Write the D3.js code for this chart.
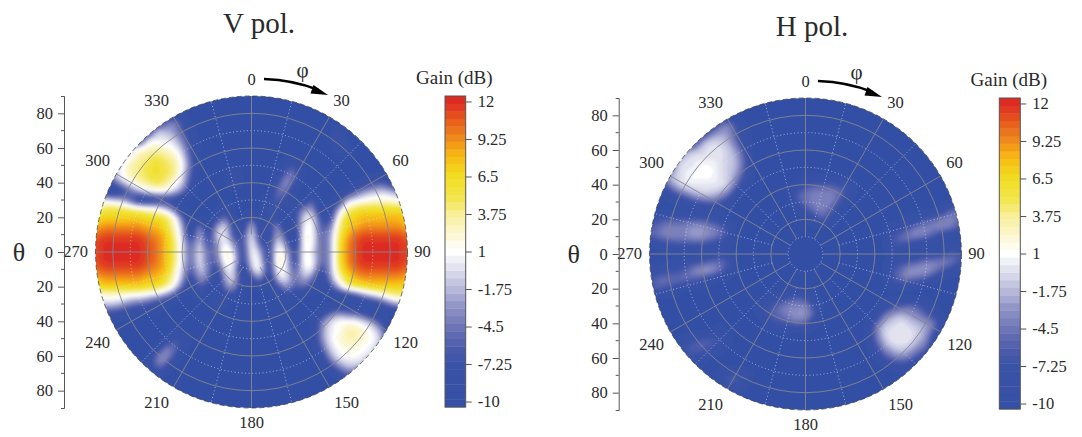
<!DOCTYPE html>
<html><head><meta charset="utf-8">
<script src="https://cdn.jsdelivr.net/npm/d3@7"></script>
<style>
html,body{margin:0;padding:0;background:#fff;overflow:hidden}
text{font-family:"Liberation Serif","Times New Roman",serif;fill:#2a2a2a}
</style></head><body>
<svg id="c" width="1082" height="437"></svg>
<script>
const _=-10, e=Array(37).fill(_);
// Gain (dB), rows theta-y +90..-90, columns theta-x -90..+90, 5 degree step
const gainV=[
e,e,e,
[_,_,_,_,_,_,_,_,-6,-4,-7, _,_,_,_,_,_,_,_,_,_,_,_,_,_,_,_, _,_,_,_,_,_,_,_,_,_],
[_,_,_,_,_,_,_,-2,-2,-3,-6, -9,_,_,_,_,_,_,_,_,_,_,_,_,_,_,_, _,-9,_,_,_,_,_,_,_,_],
[_,_,_,_,_,_,-1,0,0,-1,-4, -8,_,_,_,_,_,_,_,_,_,_,_,_,_,_,_, _,-8,_,_,_,_,_,_,_,_],
[_,_,_,_,-2,1,2,3,2,1,-2, -7,_,_,_,_,_,_,_,_,_,_,_,_,_,_,_, _,-8,-9,_,_,_,_,_,_,_],
[_,_,_,-2,1,3,4,5,4,3,0, -6,_,_,_,_,_,_,_,_,_,_,_,_,_,_,_, _,_,_,_,_,_,_,_,_,_],
[_,_,-4,0,3,4,5,6,5,4,1, -5,_,_,_,_,_,_,_,_,_,_,-8,-7,_,_,_, _,_,_,_,_,_,_,_,_,_],
[_,_,-2,1,3,4,5,6,5,4,0, -6,_,_,_,_,-8,_,_,_,_,_,-5,-5,_,_,_, _,_,_,_,_,_,_,_,_,_],
[_,_,-6,-2,1,3,4,5,4,2,-1, -7,_,_,_,_,-8,_,_,_,_,-7,-3,-7,_,_,_, _,_,_,_,-9,-7,-6,-8,_,_],
[_,-9,_,-8,-5,-2,0,1,1,-1,-4, -9,_,_,_,_,_,_,_,_,_,-5,-5,_,_,_,_, _,_,-9,-6,-3,-2,-1,-2,-4,_],
[-2,0,-1,-2,-5,-9,-9,-8,-8,-8,_, _,_,_,_,_,_,_,_,_,-8,-6,-8,_,_,-6,_, _,-9,-2,0,1,2,2,2,1,0],
[3,5,5,5,4,3,2,1,-1,-5,_, _,_,_,_,-8,_,_,_,_,-7,-8,_,-8,-4,-3,_, -9,-3,3,5,6,6,6,6,6,6],
[6,7,7,7,7,7,6,6,5,2,-5, _,_,_,-8,-5,_,_,-7,_,-8,-8,_,-8,-1,0,-7, -8,1,6,7,8,8,8,8,8,7],
[8,9,9,9,9,9,8,8,6,3,-2, _,-4,_,-3,-1,-8,_,-1,_,-8,-4,_,-8,0,1,-6, -5,3,7,8,9,9,9,9,9,8],
[10,11,11,11,11,11,10,9,8,4,-1, -9,-2,-8,-1,0,-7,-7,0,-8,-9,-2,-7,_,1,1,-5, -3,4,8,10,11,11,11,11,11,10],
[11,12,12,12,12,12,11,10,8,5,0, -6,-1,-7,-3,1,-4,-7,1,-6,-8,0,-4,_,1,1,-5, -3,5,9,11,12,12,12,12,12,11],
[11,12,12,12,12,12,11,10,8,5,0, -5,0,-5,-4,3,-1,-8,1,-2,-8,2,-1,-8,1,0,-5, -3,5,9,11,12,12,12,12,12,11],
[11,12,12,12,12,12,11,10,8,5,0, -5,0,-5,-5,2,0,-8,0,0,-9,3,0,-8,1,1,-5, -3,5,9,11,12,12,12,12,12,11],
[10,11,11,11,11,11,10,9,8,4,-1, -6,-1,-4,-8,0,-1,_,-2,1,-8,1,0,-6,0,0,-7, -3,4,8,10,11,11,11,11,11,10],
[8,9,9,9,9,9,8,8,6,3,-2, -8,-3,-5,_,-2,-1,-9,-7,-3,_,-1,0,-5,-2,-4,_, -4,2,6,8,9,9,9,9,9,8],
[6,7,7,7,7,7,6,6,4,1,-5, _,-6,-8,_,-4,-3,_,_,-9,_,-7,-3,-6,-5,-8,_, -7,-2,3,5,6,7,7,7,7,7],
[1,2,2,2,1,1,0,-1,-3,-6,_, _,-9,_,_,-8,-8,_,_,_,_,-9,-8,-9,_,_,_, _,-9,-8,-6,-3,-1,1,3,4,4],
[-2,-1,-1,-2,-4,-5,-6,-8,-9,_,_, _,_,_,-8,_,_,_,_,_,_,_,_,_,_,_,_, _,_,_,_,_,-9,-7,-4,-2,-2],
[_,-7,-7,-8,-9,_,_,_,_,_,_, _,_,_,_,_,_,_,_,_,_,_,_,_,_,_,-9, -6,-4,-5,-6,-8,_,_,_,_,_],
[_,_,_,_,_,_,_,_,_,_,_, _,_,_,_,_,_,_,_,_,_,_,_,_,_,_,-5, -1,1,1,1,-1,-3,-8,_,_,_],
[_,_,_,_,_,_,_,_,_,_,_, _,_,_,_,_,_,_,_,_,_,_,_,_,_,_,-4, 0,1,3,3,2,0,-3,_,_,_],
[_,_,_,_,_,_,_,_,_,-7,-8, _,_,_,_,_,_,_,_,_,_,_,_,_,_,_,-4, 0,2,3,3,2,1,-2,_,_,_],
[_,_,_,_,_,_,_,_,-5,-5,-8, _,_,_,_,_,_,_,_,_,_,_,_,_,_,_,-6, -1,1,2,2,1,0,-3,_,_,_],
[_,_,_,_,_,_,_,-5,-3,-6,_, _,_,_,_,_,_,_,_,_,_,_,_,_,_,_,-9, -3,0,1,1,0,-1,_,_,_,_],
[_,_,_,_,_,_,_,-5,-5,_,_, _,_,_,_,_,_,_,_,_,_,_,_,_,_,_,_, -7,-3,-1,-1,-2,_,_,_,_,_],
[_,_,_,_,_,_,_,-8,_,_,_, _,_,_,_,_,_,_,_,_,_,_,_,_,_,_,_, _,-8,-5,-5,_,_,_,_,_,_],
e,e,e,e
];
const gainH=[
e,e,e,
[_,_,_,_,_,_,_,_,-6,-4,-7, _,_,_,_,_,_,_,_,_,_,_,_,_,_,_,_, _,_,_,_,_,_,_,_,_,_],
[_,_,_,_,_,_,_,-5,-3,-3,-6, -9,_,_,_,_,_,_,_,_,_,_,_,_,_,_,_, _,_,_,_,_,_,_,_,_,_],
[_,_,_,_,_,_,-3,-1,-1,-2,-5, -9,_,_,_,_,_,_,_,_,_,_,_,_,_,_,_, _,_,_,_,_,_,_,_,_,_],
[_,_,_,_,-4,-2,-1,0,0,-1,-3, -7,_,_,_,_,_,_,_,_,_,_,_,_,_,_,_, _,_,_,_,_,_,_,_,_,_],
[_,_,_,-3,-1,0,0,0,0,-1,-2, -6,_,_,_,_,_,_,_,_,_,_,_,_,_,_,_, _,_,_,_,_,_,_,_,_,_],
[_,_,_,-2,0,0,1,1,0,-1,-2, -6,_,_,_,_,_,_,_,_,_,_,_,_,_,_,_, _,_,_,_,_,_,_,_,_,_],
[_,_,-3,-1,0,1,1,1,0,-1,-3, -7,_,_,_,_,_,_,_,_,_,_,_,_,_,_,_, _,_,_,_,_,_,_,_,_,_],
[_,_,-5,-2,0,0,0,0,0,-1,-5, -9,_,_,_,_,_,_,-7,-6,-6,-6,-7,-8,_,_,_, _,_,_,_,_,_,_,_,_,_],
[_,_,-9,-6,-4,-2,-1,-1,-2,-4,-8, _,_,_,_,_,_,-6,-5,-4,-4,-4,-5,-8,_,_,_, _,_,_,_,_,_,_,_,_,_],
[_,_,_,_,-9,-7,-6,-5,-6,-8,_, _,_,_,_,_,_,-7,-5,-4,-4,-4,-7,_,_,_,_, _,_,_,_,_,_,_,_,_,-8],
[_,_,_,_,_,_,_,_,_,_,_, _,_,_,_,_,_,_,-7,-5,-4,-6,-9,_,_,_,_, _,_,_,_,_,_,_,-7,-5,-5],
[-8,-7,-6,-6,-6,-6,-6,-7,-8,_,_, _,_,_,_,_,_,_,_,-8,-6,-8,_,_,_,_,_, _,_,_,-9,-8,-6,-5,-4,-4,-5],
[-6,-5,-4,-4,-4,-3,-3,-4,-5,-7,_, _,_,_,_,_,_,_,_,_,_,_,_,_,_,_,_, _,-9,-8,-6,-4,-4,-4,-4,-5,-7],
[-6,-5,-4,-4,-4,-3,-3,-4,-5,-7,_, _,_,_,_,_,_,_,_,_,_,_,_,_,_,_,_, _,-7,-5,-4,-4,-5,-7,-9,_,_],
[_,-9,-8,-7,-7,-7,-7,-8,-9,_,_, _,_,_,_,_,_,_,_,_,_,_,_,_,_,_,_, _,-7,-7,-8,_,_,_,_,-9,-9],
[_,_,_,_,_,_,_,-9,-8,-9,_, _,_,_,_,_,_,_,_,_,_,_,_,_,_,_,_, _,_,_,_,-9,-8,-8,-7,-6,-7],
[_,_,_,-9,-8,-7,-6,-5,-5,-6,_, _,_,_,_,_,_,_,_,_,_,_,_,_,_,_,_, _,-8,-7,-6,-5,-4,-4,-4,-5,-7],
[-8,-8,-7,-7,-6,-4,-3,-3,-5,-8,_, _,_,_,_,_,_,_,_,_,_,_,_,_,_,_,_, _,-7,-5,-3,-3,-3,-5,-7,-9,_],
[-7,-5,-5,-5,-5,-6,-7,-9,_,_,_, _,_,_,_,_,_,_,_,_,_,_,_,_,_,_,_, _,-7,-5,-5,-6,-7,-9,_,_,_],
[-7,-6,-7,-8,_,_,_,_,_,_,_, _,_,_,_,_,_,_,_,_,_,_,_,_,_,_,_, _,_,_,_,_,_,_,_,_,_],
[_,_,_,_,_,_,_,_,_,_,_, _,_,_,-9,-8,-7,-6,-7,-9,_,_,_,_,_,_,_, _,_,_,_,_,_,_,_,_,_],
[_,_,_,_,_,_,_,_,_,_,_, _,_,-8,-7,-5,-4,-4,-4,-7,_,_,_,_,_,_,_, -9,-7,-6,-5,-6,-8,_,_,_,_],
[_,_,_,_,_,_,_,_,_,_,_, _,_,-9,-6,-5,-4,-3,-3,-6,_,_,_,_,_,_,_, -5,-3,-2,-3,-4,-6,-8,_,_,_],
[_,_,_,_,_,_,_,_,_,_,_, _,_,_,-8,-7,-6,-5,-6,-9,_,_,_,_,_,_,-6, -2,-1,0,-1,-2,-3,-5,_,_,_],
[_,_,_,_,_,_,_,_,-8,_,_, _,_,_,_,_,_,_,_,_,_,_,_,_,_,_,-5, -1,0,0,0,-1,-3,-7,_,_,_],
[_,_,_,_,-9,-7,-6,-6,-7,-9,_, _,_,_,_,_,_,_,_,_,_,_,_,_,_,_,-6, -2,0,0,0,-2,-4,_,_,_,_],
[_,_,_,_,-7,-6,-6,-7,-9,_,_, _,_,_,_,_,_,_,_,_,_,_,_,_,_,_,-8, -4,-2,-1,-2,-4,-6,_,_,_,_],
[_,_,_,-9,-8,-8,-9,_,_,_,_, _,_,_,_,_,_,_,_,_,_,_,_,_,_,_,_, -7,-5,-4,-5,-7,_,_,_,_,_],
[_,_,_,_,_,_,_,_,_,_,_, _,_,_,_,_,_,_,_,_,_,_,_,_,_,_,_, _,-9,-8,-9,_,_,_,_,_,_],
[_,_,_,_,_,_,_,_,-9,-7,-7, -8,_,_,_,_,_,_,_,_,_,_,_,_,_,_,_, _,_,_,_,_,_,_,_,_,_],
[_,_,_,_,_,_,_,_,_,-7,-7, -9,_,_,_,_,_,_,_,_,_,_,_,_,_,_,_, _,_,_,_,_,_,_,_,_,_],
e,e,e
];
const thetaTicks=[80,60,40,20,0,-20,-40,-60,-80];
const thetaMinor=[70,50,30,10,-10,-30,-50,-70];
const solidRings=[20,40,60,80], dottedRings=[10,30,50,70];
const solidSpokes=d3.range(0,360,30), dottedSpokes=d3.range(15,360,30);
const phiLabels=[0,30,60,90,120,150,180,210,240,270,300,330];
const gainTicks=[12,9.25,6.5,3.75,1,-1.75,-4.5,-7.25,-10];
const colorStops=[-10.4,-7.25,-6,-4.5,-3,-1.75,0,1,2.5,3.75,5,6.5,8,9.25,10.5,12,12.4];
const colorHex=["#3350a5","#3b52a6","#4c5cac","#6f76b7","#9094c6","#b7b9da","#e6e6f2","#ffffff","#fbf6cc","#f8ef9a","#f3e54c","#f0dd20","#f9bb14","#ef8c1c","#e8601f","#dd2c20","#dd2a20"];
const gainDomain=[-10.4,12.4], nBands=41;

const svg=d3.select("#c");
const color=d3.scaleLinear().domain(colorStops).range(colorHex);
const bandW=(gainDomain[1]-gainDomain[0])/nBands;
const bands=d3.range(nBands).map(i=>gainDomain[0]+i*bandW);

const flt=svg.append("defs");
flt.append("filter").attr("id","soft").attr("x","-5%").attr("y","-5%").attr("width","110%").attr("height","110%")
  .append("feGaussianBlur").attr("stdDeviation",0.8);
flt.append("filter").attr("id","softBar").attr("x","-5%").attr("y","-1%").attr("width","110%").attr("height","102%")
  .append("feGaussianBlur").attr("stdDeviation",0.4);

const cr=(a,b,c,d,t)=>0.5*(2*b+(c-a)*t+(2*a-5*b+4*c-d)*t*t+(3*b-a-3*c+d)*t*t*t);
function upsample(rows,f){
  const n=rows.length,m=(n-1)*f+1,out=new Float64Array(m*m),cl=i=>Math.max(0,Math.min(n-1,i));
  for(let j=0;j<m;j++)for(let i=0;i<m;i++){
    const a=i/f,b=j/f,i0=Math.min(Math.floor(a),n-2),j0=Math.min(Math.floor(b),n-2),u=a-i0,v=b-j0;
    const col=[-1,0,1,2].map(dj=>{const r=rows[cl(j0+dj)];return cr(r[cl(i0-1)],r[i0],r[i0+1],r[cl(i0+2)],u);});
    out[j*m+i]=Math.max(-10,cr(col[0],col[1],col[2],col[3],v));
  }
  return {data:out,width:m,height:m};
}

function panel(cfg,grid){
  const {cx,cy,R,id}=cfg;
  const g=svg.append("g");
  const r=d3.scaleLinear().domain([0,90]).range([0,R]);
  const pos=(deg,th)=>[cx+r(th)*Math.sin(deg*Math.PI/180),cy-r(th)*Math.cos(deg*Math.PI/180)];

  g.append("clipPath").attr("id",id).append("circle").attr("cx",cx).attr("cy",cy).attr("r",R);
  const heat=g.append("g").attr("clip-path",`url(#${id})`).append("g").attr("filter","url(#soft)");
  heat.append("rect").attr("x",cx-R-3).attr("y",cy-R-3).attr("width",2*R+6).attr("height",2*R+6).attr("fill",color(gainDomain[0]));

  const F=4, up=upsample(grid,F);
  d3.blur2(up,1);
  const px=d3.scaleLinear().domain([0.5,up.width-0.5]).range([cx-R,cx+R]);
  const py=d3.scaleLinear().domain([0.5,up.height-0.5]).range([cy-R,cy+R]);
  const path=d3.geoPath(d3.geoTransform({point(x,y){this.stream.point(px(x),py(y));}}));
  const contours=d3.contours().size([up.width,up.height]).smooth(true).thresholds(bands.slice(1))(up.data);
  heat.selectAll("path").data(contours).join("path")
    .attr("d",path).attr("fill",d=>color(d.value+bandW/2));

  const grids=g.append("g").attr("fill","none");
  grids.selectAll(".dr").data(dottedRings).join("circle").attr("cx",cx).attr("cy",cy).attr("r",r)
    .attr("stroke","#e2e4f2").attr("stroke-width",0.8).attr("stroke-dasharray","1 2.5").attr("opacity",.8);
  grids.selectAll(".ds").data(dottedSpokes).join("path")
    .attr("d",d=>d3.line()([pos(d,20),pos(d,90)]))
    .attr("stroke","#e2e4f2").attr("stroke-width",0.8).attr("stroke-dasharray","1 2.5").attr("opacity",.8);
  grids.selectAll(".sr").data(solidRings).join("circle").attr("cx",cx).attr("cy",cy).attr("r",r)
    .attr("stroke","#85868f").attr("stroke-width",0.9);
  grids.selectAll(".ss").data(solidSpokes).join("path")
    .attr("d",d=>d3.line()([pos(d,10),pos(d,90)]))
    .attr("stroke","#85868f").attr("stroke-width",0.9);
  g.append("circle").attr("cx",cx).attr("cy",cy).attr("r",R).attr("fill","none")
    .attr("stroke","#333").attr("stroke-width",0.7).attr("stroke-dasharray","5 3");

  // phi labels
  const labelAt={0:[0,-172],30:[90,-151],60:[149,-91],90:[171,0],120:[154,91],150:[95,151],180:[0,171],210:[-95,151],240:[-154,91],270:[-176,0],300:[-154,-91],330:[-95,-151]};
  g.append("g").selectAll("text").data(phiLabels).join("text")
    .attr("x",d=>cx+labelAt[d][0]).attr("y",d=>cy+labelAt[d][1])
    .attr("dy","0.33em").attr("text-anchor","middle").attr("font-size",16.5).text(d=>d);

  // theta axis
  const yS=d3.scaleLinear().domain([90,-90]).range([cy-R,cy+R]);
  const ax=g.append("g").attr("transform",`translate(${cfg.axisX},0)`);
  ax.call(d3.axisLeft(yS).tickValues(thetaTicks).tickFormat(d=>Math.abs(d)).tickSize(6).tickPadding(5).tickSizeOuter(3));
  ax.append("g").selectAll("line").data(thetaMinor).join("line")
    .attr("x2",-3).attr("y1",yS).attr("y2",yS).attr("stroke","#555");
  ax.selectAll(".domain,.tick line").attr("stroke","#555");
  ax.selectAll("text").attr("font-size",16.5).attr("font-family",null).attr("fill","#2a2a2a");
  g.append("text").attr("x",cfg.axisX-45).attr("y",cy).attr("dy","0.33em").attr("text-anchor","middle").attr("font-size",26).text("θ");

  // phi arrow
  const a=g.append("g").attr("transform",`translate(${cx},${cy})`);
  const p=d3.path(); p.moveTo(12.5,-173); p.quadraticCurveTo(42,-172,67,-162);
  a.append("path").attr("d",p.toString()).attr("fill","none").attr("stroke","#000").attr("stroke-width",2.6);
  const h=d3.path(); h.moveTo(76.5,-157); h.lineTo(62,-167); h.lineTo(59,-158.5); h.closePath();
  a.append("path").attr("d",h.toString()).attr("fill","#000");
  g.append("text").attr("x",cx+51).attr("y",cy-182).attr("dy","0.33em").attr("text-anchor","middle").attr("font-size",21).text("φ");

  // title
  g.append("text").attr("x",cfg.titleX).attr("y",cfg.titleY).attr("text-anchor","middle").attr("font-size",cfg.titleSize).text(cfg.title);

  // colour bar
  const bar=svg.append("g");
  const cS=d3.scaleLinear().domain(gainDomain).range([cy+R-1,cy-R+0]);
  bar.append("g").attr("filter","url(#softBar)").selectAll("rect").data(bands).join("rect")
    .attr("x",cfg.barX).attr("width",cfg.barW)
    .attr("y",d=>cS(d+bandW)).attr("height",d=>cS(d)-cS(d+bandW)+0.4)
    .attr("fill",d=>color(d+bandW/2));
  bar.append("rect").attr("x",cfg.barX).attr("width",cfg.barW).attr("y",cS(gainDomain[1])).attr("height",cS(gainDomain[0])-cS(gainDomain[1]))
    .attr("fill","none").attr("stroke","#555").attr("stroke-width",1);
  const bx=bar.append("g").attr("transform",`translate(${cfg.barX+cfg.barW},0)`);
  bx.call(d3.axisRight(cS).tickValues(gainTicks).tickFormat(d=>d).tickSize(6).tickPadding(6));
  bx.select(".domain").remove();
  bx.selectAll(".tick line").attr("stroke","#555");
  bx.selectAll("text").attr("font-size",16.5).attr("font-family",null).attr("fill","#2a2a2a");
  svg.append("text").attr("x",cfg.barX+cfg.barW/2-1).attr("y",cy-R-12).attr("text-anchor","middle").attr("font-size",19).text("Gain (dB)");
}

panel({id:"cv",cx:251.5,cy:252,R:156,axisX:64,barX:445,barW:20.7,title:"V pol.",titleX:259,titleY:33,titleSize:29},gainV);
panel({id:"ch",cx:805.5,cy:254,R:156,axisX:618.7,barX:999.3,barW:21,title:"H pol.",titleX:812,titleY:36,titleSize:29},gainH);
</script>
</body></html>
